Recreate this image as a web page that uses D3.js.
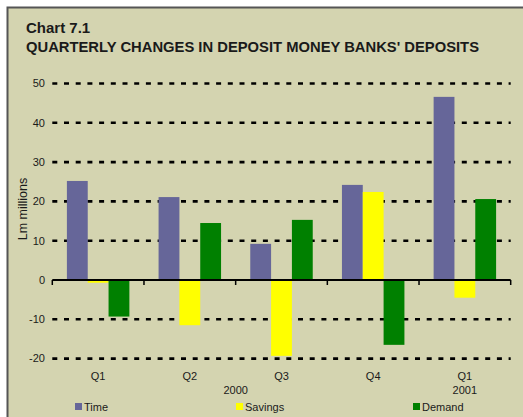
<!DOCTYPE html>
<html>
<head>
<meta charset="utf-8">
<script src="https://cdn.jsdelivr.net/npm/d3@7"></script>
<style>
  html, body { margin: 0; padding: 0; background: #ffffff; }
  svg text { font-family: "Liberation Sans", Arial, sans-serif; fill: #1a1a1a; }
</style>
</head>
<body>
<svg id="chart" width="523" height="417"></svg>
<script>
// -----------------------------
// Data
// -----------------------------
const categories = ["Q1 2000", "Q2 2000", "Q3 2000", "Q4 2000", "Q1 2001"];
const quarterLabels = ["Q1", "Q2", "Q3", "Q4", "Q1"];
const yearLabels = [
  { year: "2000", from: "Q1 2000", to: "Q4 2000" },
  { year: "2001", from: "Q1 2001", to: "Q1 2001" },
];
const seriesNames = ["Time", "Savings", "Demand"];
const timeValues = [25.2, 21.1, 9.2, 24.2, 46.6];
const savingsValues = [-0.7, -11.5, -19.3, 22.4, -4.5];
const demandValues = [-9.3, 14.5, 15.3, -16.5, 20.6];
const yTicks = [-20, -10, 0, 10, 20, 30, 40, 50];

const COLORS = new Map([
  ["Time", "#666699"],
  ["Savings", "#ffff00"],
  ["Demand", "#008000"],
]);

const valuesBySeries = new Map([
  ["Time", timeValues],
  ["Savings", savingsValues],
  ["Demand", demandValues],
]);

// -----------------------------
// Layout
// -----------------------------
const svg = d3.select("#chart");
const width = 523;
const height = 417;

const plotLeft = 52.3;
const plotRight = 510.7;

const x0 = d3.scaleBand().domain(categories).range([plotLeft, plotRight]);
const groupPad = 14.6;
const x1 = d3
  .scaleBand()
  .domain(seriesNames)
  .range([groupPad, x0.bandwidth() - groupPad]);

const y = d3.scaleLinear().domain([-20, 50]).range([358.6, 83.5]);

// background panel
svg
  .append("rect")
  .attr("x", 7.5)
  .attr("y", 7.5)
  .attr("width", width)
  .attr("height", height)
  .attr("fill", "#d4d4b0")
  .attr("stroke", "#555555")
  .attr("stroke-width", 2);

// title
svg
  .append("text")
  .attr("x", 26)
  .attr("y", 32.5)
  .style("font-size", "15px")
  .style("font-weight", "bold")
  .text("Chart 7.1");

svg
  .append("text")
  .attr("x", 26)
  .attr("y", 51.5)
  .style("font-size", "15px")
  .style("font-weight", "bold")
  .attr("textLength", 453)
  .attr("lengthAdjust", "spacingAndGlyphs")
  .text("QUARTERLY CHANGES IN DEPOSIT MONEY BANKS' DEPOSITS");

// -----------------------------
// Gridlines (dotted) and y tick labels
// -----------------------------
svg
  .append("g")
  .selectAll("line")
  .data(yTicks.filter((d) => d !== 0))
  .join("line")
  .attr("x1", plotLeft)
  .attr("x2", plotRight)
  .attr("y1", (d) => y(d))
  .attr("y2", (d) => y(d))
  .attr("stroke", "#000")
  .attr("stroke-width", 2.6)
  .attr("stroke-dasharray", "5,6.7");

svg
  .append("g")
  .selectAll("text")
  .data(yTicks)
  .join("text")
  .attr("x", 45)
  .attr("y", (d) => y(d))
  .attr("dy", "0.35em")
  .attr("text-anchor", "end")
  .style("font-size", "11px")
  .text((d) => d);

svg
  .append("text")
  .attr("transform", "translate(27, 209) rotate(-90)")
  .attr("text-anchor", "middle")
  .style("font-size", "12.5px")
  .text("Lm millions");

// -----------------------------
// Bars
// -----------------------------
const rows = categories.map((c, i) => ({
  category: c,
  values: seriesNames.map((s) => ({ series: s, value: valuesBySeries.get(s)[i] })),
}));

svg
  .append("g")
  .selectAll("g")
  .data(rows)
  .join("g")
  .attr("transform", (d) => `translate(${x0(d.category)},0)`)
  .selectAll("rect")
  .data((d) => d.values)
  .join("rect")
  .attr("x", (d) => x1(d.series))
  .attr("width", x1.bandwidth())
  .attr("y", (d) => y(Math.max(0, d.value)))
  .attr("height", (d) => Math.abs(y(d.value) - y(0)))
  .attr("fill", (d) => COLORS.get(d.series));

// -----------------------------
// Zero axis with category ticks
// -----------------------------
svg
  .append("line")
  .attr("x1", plotLeft)
  .attr("x2", plotRight)
  .attr("y1", y(0))
  .attr("y2", y(0))
  .attr("stroke", "#000")
  .attr("stroke-width", 2);

const boundaries = categories.map((c) => x0(c)).concat([plotRight]);
svg
  .append("g")
  .selectAll("line")
  .data(boundaries)
  .join("line")
  .attr("x1", (d) => d)
  .attr("x2", (d) => d)
  .attr("y1", y(0))
  .attr("y2", y(0) + 5)
  .attr("stroke", "#000")
  .attr("stroke-width", 1.5);

// category labels
svg
  .append("g")
  .selectAll("text")
  .data(categories)
  .join("text")
  .attr("x", (d) => x0(d) + x0.bandwidth() / 2)
  .attr("y", 380)
  .attr("text-anchor", "middle")
  .style("font-size", "11px")
  .text((d, i) => quarterLabels[i]);

svg
  .append("g")
  .selectAll("text")
  .data(yearLabels)
  .join("text")
  .attr("x", (d) => (x0(d.from) + x0(d.to) + x0.bandwidth()) / 2)
  .attr("y", 394)
  .attr("text-anchor", "middle")
  .style("font-size", "11px")
  .text((d) => d.year);

// -----------------------------
// Legend
// -----------------------------
const legendX = [75, 236, 413];
const legend = svg
  .append("g")
  .selectAll("g")
  .data(seriesNames)
  .join("g")
  .attr("transform", (d, i) => `translate(${legendX[i]}, 403)`);

legend
  .append("rect")
  .attr("width", 7)
  .attr("height", 7)
  .attr("fill", (d) => COLORS.get(d));

legend
  .append("text")
  .attr("x", 9)
  .attr("y", 8)
  .style("font-size", "11px")
  .text((d) => d);
</script>
</body>
</html>
